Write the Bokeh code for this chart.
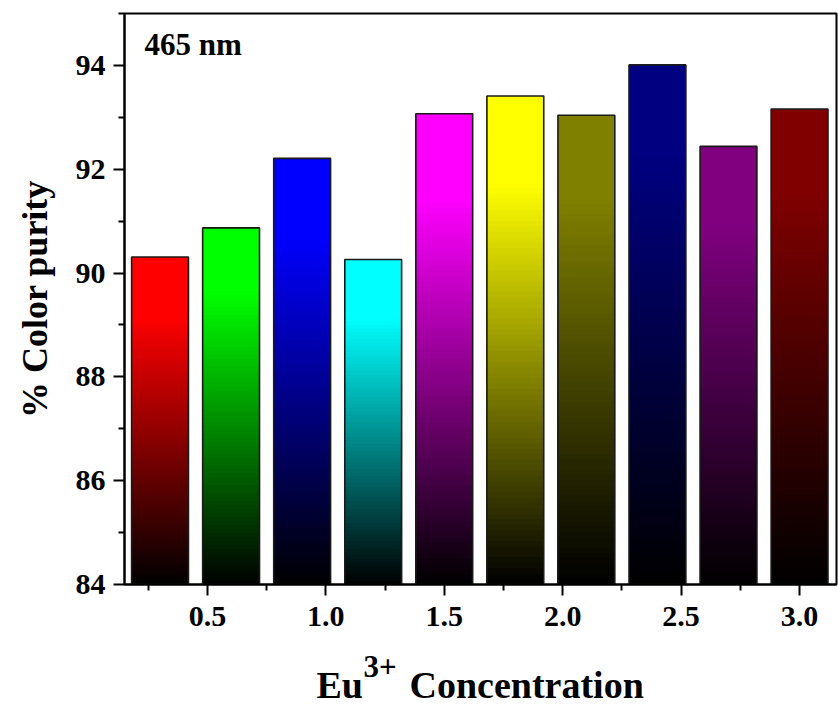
from bokeh.plotting import figure
from bokeh.models import ColumnDataSource, FixedTicker, Label, Range1d
from bokeh.layouts import column
from bokeh.core.properties import value
from bokeh.embed import file_html
from bokeh.resources import INLINE

# ---- data ----
concentration = [0.3, 0.6, 0.9, 1.2, 1.5, 1.8, 2.1, 2.4, 2.7, 3.0]
purity = [90.31, 90.87, 92.21, 90.26, 93.07, 93.41, 93.04, 94.01, 92.44, 93.16]
bar_colors = [(255, 0, 0), (0, 255, 0), (0, 0, 255), (0, 255, 255), (255, 0, 255),
              (255, 255, 0), (128, 128, 0), (0, 0, 128), (128, 0, 128), (128, 0, 0)]
x_ticks = [0.5, 1.0, 1.5, 2.0, 2.5, 3.0]
x_minor = [0.25, 0.75, 1.25, 1.75, 2.25, 2.75]
y_ticks = [84, 86, 88, 90, 92, 94]
y_minor = [85, 87, 89, 91, 93, 95]
baseline = 84.0
bar_width = 0.24

FONT = "Liberation Serif"

p = figure(width=838, height=644, x_range=Range1d(0.15, 3.156), y_range=Range1d(84, 95),
           output_backend="svg", toolbar_location=None,
           min_border_left=124, min_border_right=2, min_border_top=13, min_border_bottom=60)
p.frame_align = False
p.grid.visible = False
p.background_fill_color = "white"
p.border_fill_color = "white"
p.outline_line_color = "black"
p.outline_line_width = 2

# gradient: each layer spans from the baseline to its own top; drawn tallest first
N = 90
left, right, bottom, top, fill = [], [], [], [], []
for xc, v, (r, g, b) in zip(concentration, purity, bar_colors):
    h = v - baseline
    for k in range(N - 1, -1, -1):
        t = (k + 0.5) / N
        f = min(1.0, 1.22 * t)
        left.append(xc - bar_width / 2)
        right.append(xc + bar_width / 2)
        bottom.append(baseline)
        top.append(baseline + h * (k + 1) / N)
        fill.append("#%02x%02x%02x" % (int(r * f), int(g * f), int(b * f)))
src = ColumnDataSource(dict(left=left, right=right, bottom=bottom, top=top, fill=fill))
p.quad(left="left", right="right", bottom="bottom", top="top", source=src,
       fill_color="fill", line_color=None)

outline = ColumnDataSource(dict(left=[c - bar_width / 2 for c in concentration],
                                right=[c + bar_width / 2 for c in concentration],
                                top=purity, bottom=[baseline] * len(purity)))
p.quad(left="left", right="right", bottom="bottom", top="top", source=outline,
       fill_color=None, line_color="#1a1a1a", line_width=1.6)

# axes
for ax in (p.xaxis[0], p.yaxis[0]):
    ax.axis_line_width = 2
    ax.major_tick_line_width = 2
    ax.minor_tick_line_width = 2
    ax.major_tick_out = 11
    ax.major_tick_in = 0
    ax.minor_tick_out = 6
    ax.minor_tick_in = 0
    ax.major_label_text_font = FONT
    ax.major_label_text_font_style = "bold"
    ax.major_label_text_font_size = "30px"
    ax.major_label_text_color = "black"

p.xaxis.ticker = FixedTicker(ticks=x_ticks, minor_ticks=x_minor)
p.xaxis.major_label_overrides = {t: "%.1f" % t for t in x_ticks}
p.xaxis.major_label_standoff = 11
p.yaxis.ticker = FixedTicker(ticks=y_ticks, minor_ticks=y_minor)
p.yaxis.major_label_standoff = 8
p.yaxis.axis_label = "% Color purity"
p.yaxis.axis_label_text_font = FONT
p.yaxis.axis_label_text_font_style = "bold"
p.yaxis.axis_label_text_font_size = "36px"
p.yaxis.axis_label_text_color = "black"
p.yaxis.axis_label_standoff = 18

# annotation inside the frame
p.add_layout(Label(x=20, y=540, x_units="screen", y_units="screen", text="465 nm",
                   text_font=FONT, text_font_style="bold", text_font_size="31px",
                   text_color="black", text_baseline="alphabetic"))

# x-axis title strip (with superscript) below the plot; its frame covers its whole canvas
q = figure(width=838, height=64, x_range=Range1d(0, 838), y_range=Range1d(0, 64),
           output_backend="svg", toolbar_location=None,
           min_border_left=0, min_border_right=0, min_border_top=0, min_border_bottom=0)
q.frame_align = False
q.axis.visible = False
q.grid.visible = False
q.outline_line_color = None
q.background_fill_color = "white"
q.border_fill_color = "white"
tsrc = ColumnDataSource(dict(x=[316, 409], y=[24, 24], text=["Eu", "Concentration"]))
q.text(x="x", y="y", text="text", source=tsrc, text_font=value(FONT), text_font_style="bold",
       text_font_size="38px", text_color="black", text_baseline="alphabetic")
ssrc = ColumnDataSource(dict(x=[363], y=[42], text=["3+"]))
q.text(x="x", y="y", text="text", source=ssrc, text_font=value(FONT), text_font_style="bold",
       text_font_size="31px", text_color="black", text_baseline="alphabetic")

layout = column(p, q, spacing=0)
open("out.html", "w").write(file_html(layout, INLINE))
